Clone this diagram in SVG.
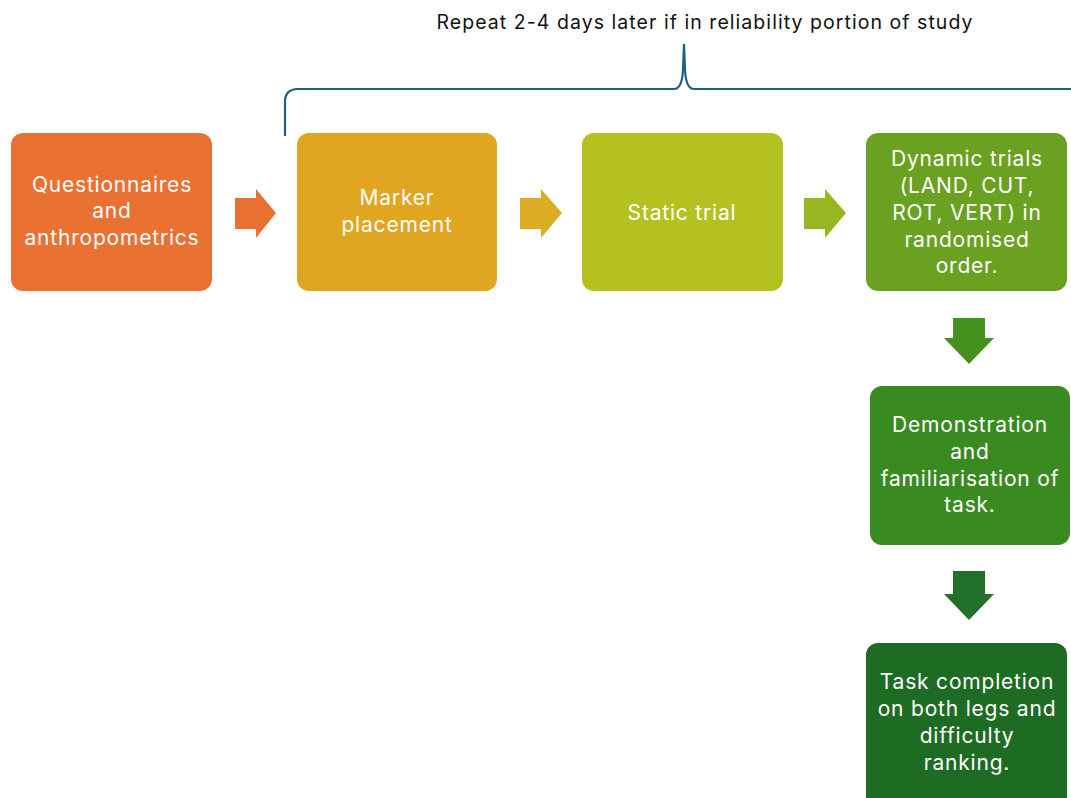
<svg xmlns="http://www.w3.org/2000/svg" width="1071" height="798" viewBox="0 0 1071 798">
  <style>
    .box text { fill: #ffffff; font-family: Inter, "Open Sans", "Liberation Sans", sans-serif; font-size: 21px; font-weight: 400; letter-spacing: 0.8px; text-anchor: middle; }
    .title { fill: #111111; font-family: Inter, "Open Sans", "Liberation Sans", sans-serif; font-size: 19.5px; letter-spacing: 1.05px; text-anchor: middle; }
    .brace { fill: none; stroke: #1d5f80; stroke-width: 2.2; }
  </style>
  <rect width="1071" height="798" fill="#ffffff"/>

  <!-- bracket over the repeated steps -->
  <text class="title" x="705" y="29">Repeat 2-4 days later if in reliability portion of study</text>
  <path class="brace" d="M285,136 L285,102 Q285,89 298,89 L674,89 Q682,89 683,70 L684,44 L685,70 Q686,89 694,89 L1071,89"/>

  <g id="n1" class="box">
    <rect x="11" y="133" width="201" height="158" rx="12" fill="#e97132"/>
    <text x="112" y="192">Questionnaires</text>
    <text x="112" y="218">and</text>
    <text x="112" y="245">anthropometrics</text>
  </g>
  <g id="n2" class="box">
    <rect x="297" y="133" width="200" height="158" rx="12" fill="#e0a521"/>
    <text x="397" y="205">Marker</text>
    <text x="397" y="232">placement</text>
  </g>
  <g id="n3" class="box">
    <rect x="582" y="133" width="201" height="158" rx="12" fill="#b5c11f"/>
    <text x="682" y="220">Static trial</text>
  </g>
  <g id="n4" class="box">
    <rect x="866" y="133" width="201" height="158" rx="12" fill="#6aa121"/>
    <text x="967" y="166">Dynamic trials</text>
    <text x="967" y="193">(LAND, CUT,</text>
    <text x="967" y="220">ROT, VERT) in</text>
    <text x="967" y="247">randomised</text>
    <text x="967" y="273">order.</text>
  </g>
  <g id="n5" class="box">
    <rect x="870" y="386" width="200" height="159" rx="12" fill="#3a8a22"/>
    <text x="970" y="432">Demonstration</text>
    <text x="970" y="459">and</text>
    <text x="970" y="486">familiarisation of</text>
    <text x="970" y="512">task.</text>
  </g>
  <g id="n6" class="box">
    <rect x="866" y="643" width="201" height="170" rx="12" fill="#1e6b24"/>
    <text x="967" y="689">Task completion</text>
    <text x="967" y="716">on both legs and</text>
    <text x="967" y="743">difficulty</text>
    <text x="967" y="770">ranking.</text>
  </g>

  <g id="connectors">
    <polygon points="235,198 256,198 256,189 276,213 256,238 256,229 235,229" fill="#e97132"/>
    <polygon points="520,198 541,198 541,189 562,213 541,238 541,229 520,229" fill="#dcad22"/>
    <polygon points="804,198 825,198 825,189 846,213 825,238 825,229 804,229" fill="#98b621"/>
    <polygon points="953,318 985,318 985,338 994,338 969,364 944,338 953,338" fill="#45911f"/>
    <polygon points="953,571 985,571 985,594 994,594 969,620 944,594 953,594" fill="#22702a"/>
  </g>
</svg>
